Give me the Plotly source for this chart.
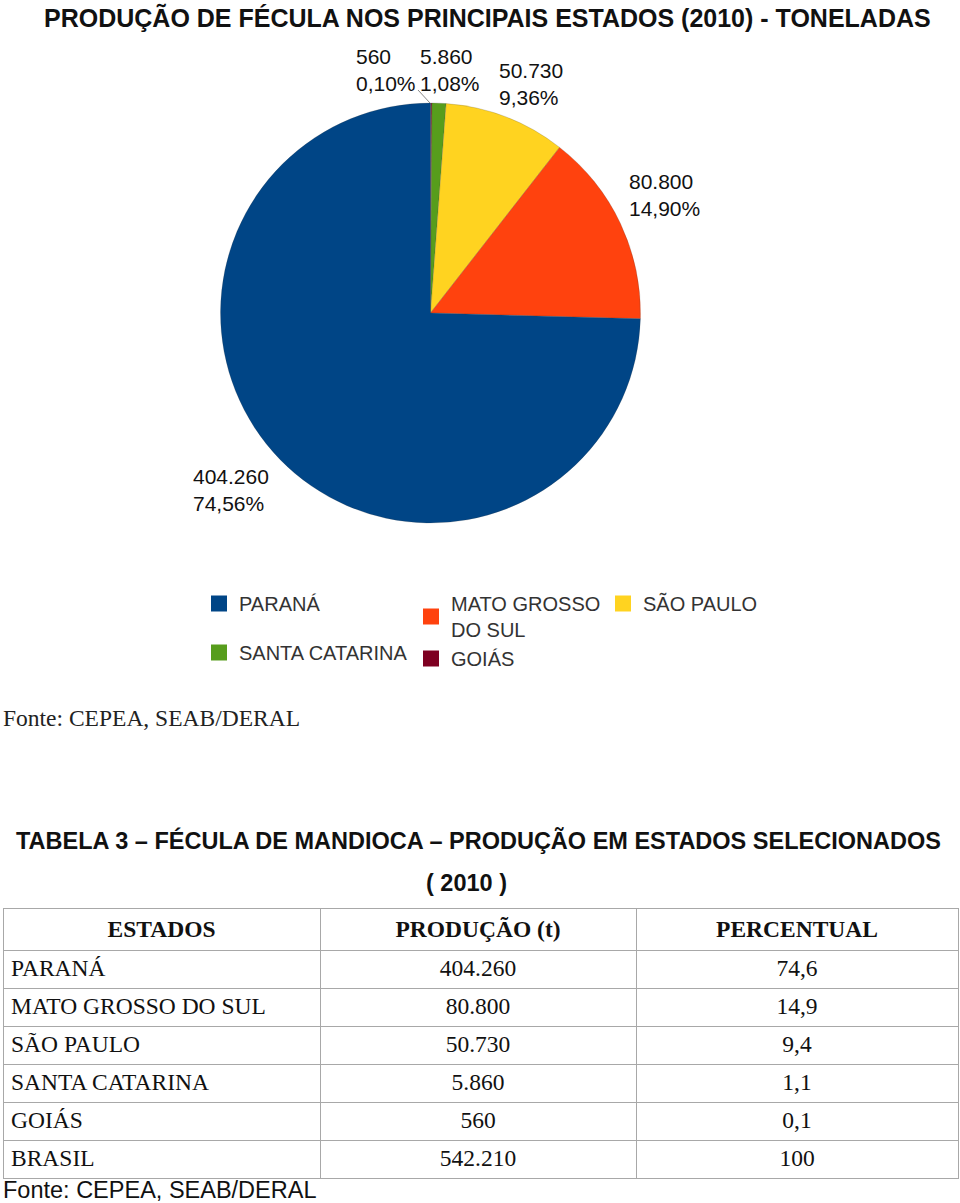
import plotly.graph_objects as go

W, H = 960, 1203

# ---- data ----
estados = ["PARANÁ", "MATO GROSSO DO SUL", "SÃO PAULO", "SANTA CATARINA", "GOIÁS"]
legend_names = ["PARANÁ", "MATO GROSSO<br>DO SUL", "SÃO PAULO", "SANTA CATARINA", "GOIÁS"]
producao = [404260, 80800, 50730, 5860, 560]
total_brasil = 542210
percentual_tabela = ["74,6", "14,9", "9,4", "1,1", "0,1", "100"]
cores = ["#004586", "#ff420e", "#ffd320", "#579d1c", "#7e0021"]

titulo = "PRODUÇÃO DE FÉCULA NOS PRINCIPAIS ESTADOS (2010) - TONELADAS"
titulo_tabela = "TABELA 3 – FÉCULA DE MANDIOCA – PRODUÇÃO EM ESTADOS SELECIONADOS"
ano_tabela = "( 2010 )"
fonte = "Fonte: CEPEA, SEAB/DERAL"
cabecalho = ["ESTADOS", "PRODUÇÃO (t)", "PERCENTUAL"]


def br_int(v):
    return f"{v:,}".replace(",", ".")


def br_pct(v, total):
    return f"{100 * v / total:.2f}".replace(".", ",") + "%"


def px(x):
    return x / W


def py(y):
    return 1 - y / H


fig = go.Figure()

# pie: clockwise from 12 o'clock GOIÁS, SANTA CATARINA, SÃO PAULO, MATO GROSSO DO SUL, PARANÁ
fig.add_trace(go.Pie(
    labels=estados[::-1], values=producao[::-1], sort=False, direction="clockwise",
    rotation=0, marker=dict(colors=cores[::-1], line=dict(width=0.4, color="rgba(60,60,60,0.5)")),
    textinfo="none", showlegend=False,
    domain=dict(x=[px(220.5), px(640.5)], y=[py(523), py(103)]),
))

# legend entries (three columns)
legend_ids = ["legend", "legend2", "legend3", "legend", "legend2"]
for name, cor, lid, est in zip(legend_names, cores, legend_ids, estados):
    fig.add_trace(go.Scatter(
        x=[None], y=[None], mode="markers", name=name, legend=lid,
        legendgroup=est,
        marker=dict(symbol="square", size=16, color=cor, line=dict(width=0)),
    ))

# slice labels
label_pos = [(193, 490), (629, 195), (499, 84), (420, 70), (356, 70)]
annotations = []
for v, (lx, ly) in zip(producao, label_pos):
    annotations.append(dict(
        x=px(lx - 2), y=py(ly), xanchor="left", yanchor="middle",
        align="left",
        text=f"{br_int(v)}<br>{br_pct(v, total_brasil)}",
        font=dict(family="Liberation Sans", size=21, color="#111"),
    ))

annotations += [
    dict(x=px(487), y=py(17), text=f"<b>{titulo}</b>", xanchor="center", yanchor="middle",
         font=dict(family="Liberation Sans", size=25, color="#111")),
    dict(x=px(1), y=py(718), text=fonte, xanchor="left", yanchor="middle",
         font=dict(family="Liberation Serif", size=23.5, color="#222")),
    dict(x=px(478), y=py(840), text=f"<b>{titulo_tabela}</b>", xanchor="center", yanchor="middle",
         font=dict(family="Liberation Sans", size=23.5, color="#111")),
    dict(x=px(466), y=py(883), text=f"<b>{ano_tabela}</b>", xanchor="center", yanchor="middle",
         font=dict(family="Liberation Sans", size=23.5, color="#111")),
    dict(x=px(1), y=py(1190), text=fonte, xanchor="left", yanchor="middle",
         font=dict(family="Liberation Sans", size=23.5, color="#111")),
]
for a in annotations:
    a.setdefault("xref", "paper")
    a.setdefault("yref", "paper")
    a.setdefault("showarrow", False)

# table
linhas_estado = estados + ["BRASIL"]
linhas_prod = [br_int(v) for v in producao] + [br_int(total_brasil)]
fig.add_trace(go.Table(
    domain=dict(x=[px(3), px(958)], y=[py(1182), py(908)]),
    columnwidth=[317, 316, 322],
    header=dict(
        values=[f"<b>{c}</b>" for c in cabecalho], align="center", height=38,
        line=dict(color="#a8a8a8", width=1), fill=dict(color="white"),
        font=dict(family="Liberation Serif", size=23.5, color="#111"),
    ),
    cells=dict(
        values=[linhas_estado, linhas_prod, percentual_tabela],
        align=["left", "center", "center"], height=38,
        line=dict(color="#a8a8a8", width=1), fill=dict(color="white"),
        font=dict(family="Liberation Serif", size=23.5, color="#111"),
    ),
))

leg_font = dict(family="Liberation Sans", size=20, color="#333")
fig.update_layout(
    width=W, height=H, margin=dict(l=0, r=0, t=0, b=0),
    paper_bgcolor="white", plot_bgcolor="white",
    xaxis=dict(visible=False), yaxis=dict(visible=False),
    annotations=annotations,
    shapes=[dict(type="line", xref="paper", yref="paper", x0=px(418), y0=py(90),
                 x1=px(430), y1=py(103), line=dict(color="#888", width=1))],
    legend=dict(x=px(199), y=py(584), xanchor="left", yanchor="top", font=leg_font,
                tracegroupgap=20, bgcolor="rgba(0,0,0,0)"),
    legend2=dict(x=px(411), y=py(584), xanchor="left", yanchor="top", font=leg_font,
                 tracegroupgap=0, bgcolor="rgba(0,0,0,0)"),
    legend3=dict(x=px(603), y=py(584), xanchor="left", yanchor="top", font=leg_font,
                 tracegroupgap=0, bgcolor="rgba(0,0,0,0)"),
)

fig.write_html("out.html", config={"displayModeBar": False},
               post_script="document.body.style.margin='0';")
